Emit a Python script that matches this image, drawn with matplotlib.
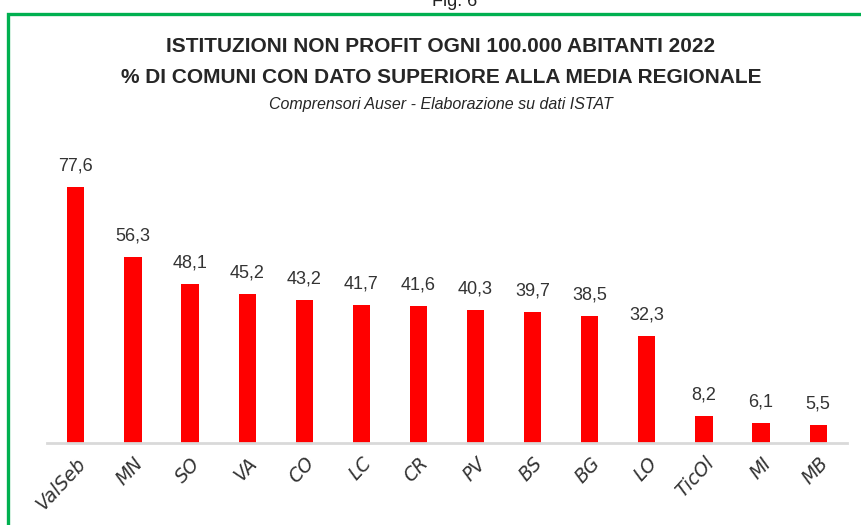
import matplotlib.pyplot as plt
from matplotlib.patches import Rectangle

categories = ['ValSeb', 'MN', 'SO', 'VA', 'CO', 'LC', 'CR', 'PV', 'BS', 'BG', 'LO', 'TicOl', 'MI', 'MB']
values = [77.6, 56.3, 48.1, 45.2, 43.2, 41.7, 41.6, 40.3, 39.7, 38.5, 32.3, 8.2, 6.1, 5.5]

W, H = 861, 525
fig = plt.figure(figsize=(W / 100, H / 100), dpi=100)

# green frame around the chart (runs past the right and bottom edges)
fig.patches.append(Rectangle((8 / W, -0.1), 1.2, 1 - 14 / H + 0.1, transform=fig.transFigure,
                             fill=False, edgecolor='#00b050', linewidth=2.4))

fig.text(455 / W, 1 - 2 / H, 'Fig. 6', ha='center', va='center', fontsize=13,
         family='Liberation Sans', color='#222222')

title_font = ['Liberation Sans', 'DejaVu Sans']
fig.text(441 / W, 1 - 47 / H, 'ISTITUZIONI NON PROFIT OGNI 100.000 ABITANTI 2022',
         ha='center', va='center', fontsize=15, fontweight='bold', family=title_font, color='#262626')
fig.text(441 / W, 1 - 77 / H, '% DI COMUNI CON DATO SUPERIORE ALLA MEDIA REGIONALE',
         ha='center', va='center', fontsize=15, fontweight='bold', family=title_font, color='#262626')
fig.text(441 / W, 1 - 105 / H, 'Comprensori Auser - Elaborazione su dati ISTAT',
         ha='center', va='center', fontsize=11.5, style='italic', family=title_font, color='#262626')

left, right = 47.3, 846.7
bottom, top = 442.7, 140
ax = fig.add_axes([left / W, 1 - bottom / H, (right - left) / W, (bottom - top) / H])

x = range(len(categories))
bars = ax.bar(x, values, width=0.3, color='#ff0000')
ax.set_xlim(-0.5, len(categories) - 0.5)
ax.set_ylim(0, (bottom - top) / 3.295)

for xi, v in zip(x, values):
    ax.annotate(f'{v:.1f}'.replace('.', ','), (xi, v), xytext=(0, 9), textcoords='offset points',
                ha='center', va='bottom', fontsize=13, family='Liberation Sans', color='#333333')

for s in ['top', 'right', 'left']:
    ax.spines[s].set_visible(False)
ax.spines['bottom'].set_color('#d9d9d9')
ax.spines['bottom'].set_linewidth(2)
ax.set_yticks([])
ax.set_xticks(list(x))
ax.set_xticklabels(categories, rotation=47, ha='right', rotation_mode='anchor',
                   fontsize=13.5, style='italic', color='#333333', family='DejaVu Sans')
ax.tick_params(axis='x', length=0, pad=8)

fig.savefig('out.png', dpi=100)
